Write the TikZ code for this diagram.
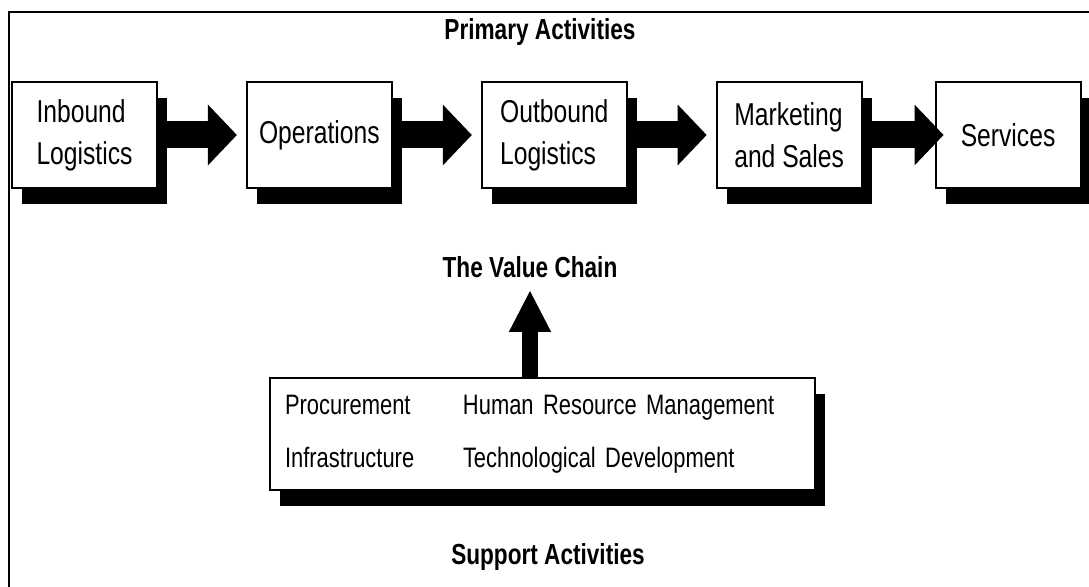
\documentclass[tikz,border=0pt]{standalone}
\usepackage{fontspec}
\setmainfont[FakeStretch=0.78]{Liberation Sans}
\usetikzlibrary{positioning,arrows.meta,shadows}
\tikzstyle{frame}=[line width=1.2pt]
\tikzstyle{blockshadow}=[drop shadow={shadow xshift=0.2cm,shadow yshift=-0.32cm,fill=black,opacity=1}]
\tikzstyle{stage}=[draw,line width=1.1pt,fill=white,blockshadow,minimum width=2.9cm,minimum height=2.12cm,align=left,font=\fontsize{18}{24}\selectfont]
\tikzstyle{supportbox}=[draw,line width=1.1pt,fill=white,blockshadow,text width=10.3cm,inner xsep=0.3cm,minimum height=2.24cm,align=left,font=\fontsize{16}{30}\selectfont]
\tikzstyle{title}=[inner sep=0pt,font=\fontsize{16.5}{20}\selectfont\bfseries]
\tikzstyle{flow}=[line width=0.54cm,-{Triangle[length=0.58cm,width=1.18cm]},shorten >=0.18cm]
\newcommand{\drawflows}[2][]{
	\foreach \a/\b in {#2}{
		\draw[flow,#1] (\a.east) -- (\b.west);
	}
}

\begin{document}
\begin{tikzpicture}[x=0.02cm,y=-0.02cm]
\useasboundingbox (0,0) rectangle (1089,587);
\draw[frame] (9,587) |- (1089,12);

% primary activities
\node[title] (primary) at (540,32) {Primary Activities};
\node[stage] (inbound) at (84.5,135) {Inbound\\Logistics};
\node[stage,right=1.76cm of inbound] (operations) {Operations};
\node[stage,right=1.76cm of operations] (outbound) {Outbound\\Logistics};
\node[stage,right=1.76cm of outbound] (marketing) {Marketing\\and Sales};
\node[stage,right=1.44cm of marketing] (services) {Services};

\drawflows{inbound/operations,operations/outbound,outbound/marketing}
\drawflows[shorten >=-0.18cm]{marketing/services}

% support activities
\node[title] (chain) at (530,267) {The Value Chain};
\node[supportbox] (support) at (542.5,434) {\makebox[3.56cm][l]{Procurement}Human Resource Management\\\makebox[3.56cm][l]{Infrastructure}Technological Development};
\draw[flow,line width=0.32cm,-{Triangle[length=0.84cm,width=0.78cm]},shorten >=0.24cm] (chain.south |- support.north) -- (chain.south);
\node[title] (supporttitle) at (548,557) {Support Activities};
\end{tikzpicture}
\end{document}
